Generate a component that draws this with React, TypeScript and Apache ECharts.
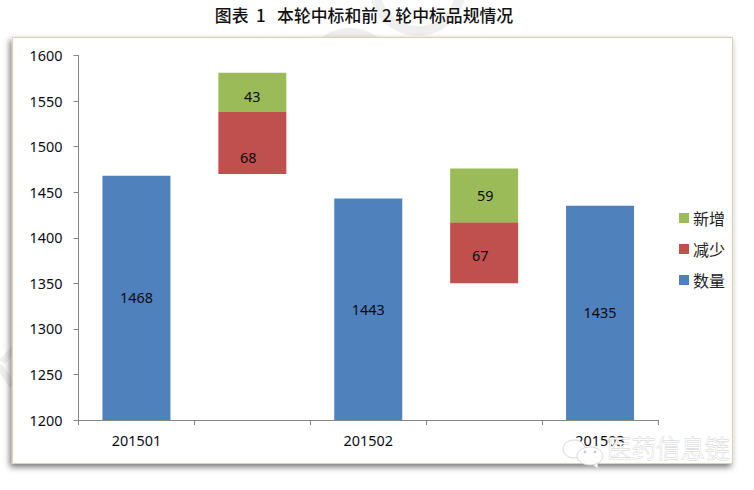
import React, { useEffect, useRef } from "react";
import * as echarts from "echarts";

const categories = ["201501", "", "201502", "", "201503"];
const yTicks = { min: 1200, max: 1600, interval: 50 };
const baseValues = [null, 1470, null, 1350, null];
const quantity = [1468, null, 1443, null, 1435];
const decrease = [null, 68, null, 67, null];
const increase = [null, 43, null, 59, null];

const TEXT = "#0c0c14";
const LATIN = "'Noto Sans', sans-serif";
const CJK = "'Noto Sans CJK SC', sans-serif";
const MARK = "#efefef";

export default function App() {
  const ref = useRef<HTMLDivElement>(null);
  useEffect(() => {
    const chart = echarts.init(ref.current!, undefined, { renderer: "svg" });
    const label = { show: true, position: "inside", color: TEXT, fontFamily: LATIN, fontSize: 14.4 };
    chart.setOption({
      animation: false,
      backgroundColor: "#fff",
      title: {
        text: "图表  1   本轮中标和前 2 轮中标品规情况",
        left: 359,
        top: 1,
        textAlign: "center",
        textStyle: { fontFamily: CJK, fontSize: 16.85, fontWeight: 500, color: "#111" },
      },
      legend: {
        orient: "vertical",
        left: 674,
        top: 202,
        itemWidth: 10,
        itemHeight: 10,
        itemGap: 9,
        icon: "rect",
        data: ["新增", "减少", "数量"],
        textStyle: { fontFamily: CJK, fontSize: 16, color: "#222", padding: [0, 0, 0, -1], lineHeight: 22 },
      },
      grid: { left: 78.5, right: 96, top: 55.5, bottom: 70 },
      xAxis: {
        type: "category",
        data: categories,
        axisLine: { lineStyle: { color: "#868686" } },
        axisTick: { show: true, length: 5, lineStyle: { color: "#868686" } },
        axisLabel: { interval: 0, color: TEXT, fontFamily: LATIN, fontSize: 14.4, margin: 13 },
      },
      yAxis: {
        type: "value",
        ...yTicks,
        axisLine: { show: true, lineStyle: { color: "#868686" } },
        axisTick: { show: true, length: 5, lineStyle: { color: "#868686" } },
        splitLine: { show: false },
        axisLabel: { color: TEXT, fontFamily: LATIN, fontSize: 14.4, margin: 16, formatter: (v: number) => String(v) },
      },
      series: [
        { name: "占位", type: "bar", stack: "t", barWidth: 68, data: baseValues, itemStyle: { color: "transparent" }, silent: true },
        { name: "数量", type: "bar", stack: "t", barWidth: 68, data: quantity, itemStyle: { color: "#4f81bd" }, label },
        {
          name: "减少", type: "bar", stack: "t", barWidth: 68, itemStyle: { color: "#c0504d" },
          data: [null, { value: decrease[1], label: { ...label, offset: [-4, 15] } }, null, { value: decrease[3], label: { ...label, offset: [-4, 3] } }, null],
        },
        {
          name: "新增", type: "bar", stack: "t", barWidth: 68, itemStyle: { color: "#9bbb59" },
          data: [null, { value: increase[1], label: { ...label, offset: [0, 4] } }, null, { value: increase[3], label: { ...label, offset: [1, 0] } }, null],
        },
      ],
      graphic: [
        { type: "ring", z: -10, silent: true, shape: { cx: 418, cy: -12, r: 48, r0: 38 }, style: { fill: MARK } },
        { type: "ring", z: -10, silent: true, shape: { cx: 350, cy: 76, r: 48, r0: 39 }, style: { fill: MARK } },
        { type: "polyline", z: -10, silent: true, shape: { points: [[14, 349], [2, 362]] }, style: { stroke: MARK, lineWidth: 7, fill: "none" } },
        { type: "polyline", z: -10, silent: true, shape: { points: [[-1, 366], [13, 386]] }, style: { stroke: MARK, lineWidth: 7, fill: "none" } },
        {
          type: "rect", z: -5, silent: true,
          shape: { x: 12.5, y: 37.5, width: 720, height: 426 },
          style: { fill: "#fff", stroke: "#d8d4b4", lineWidth: 1.2, shadowBlur: 6, shadowColor: "rgba(0,0,0,0.55)", shadowOffsetX: -2, shadowOffsetY: 3 },
        },
        { type: "ellipse", z: 20, silent: true, shape: { cx: 574, cy: 449, rx: 11, ry: 9 }, style: { fill: "#fff", stroke: "#d8d8d8", lineWidth: 1 } },
        { type: "polygon", z: 21, silent: true, shape: { points: [[590, 462], [598, 469], [597, 460]] }, style: { fill: "#fff", stroke: "#d8d8d8", lineWidth: 1 } },
        { type: "ellipse", z: 21, silent: true, shape: { cx: 590, cy: 456, rx: 13, ry: 9 }, style: { fill: "#fff", stroke: "#d8d8d8", lineWidth: 1 } },
        { type: "circle", z: 22, silent: true, shape: { cx: 585, cy: 452, r: 1.3 }, style: { fill: "#c8c8c8" } },
        { type: "circle", z: 22, silent: true, shape: { cx: 595, cy: 452, r: 1.3 }, style: { fill: "#c8c8c8" } },
        {
          type: "text", z: 21, silent: true, x: 607, y: 435,
          style: { text: "医药信息链", fontFamily: CJK, fontSize: 24.5, fontWeight: 300, fill: "#fff", stroke: "#cfcfcf", lineWidth: 0.8 },
        },
      ],
    });
    return () => chart.dispose();
  }, []);
  return <div ref={ref} style={{ position: "absolute", left: 0, top: 0, width: 754, height: 490 }} />;
}
